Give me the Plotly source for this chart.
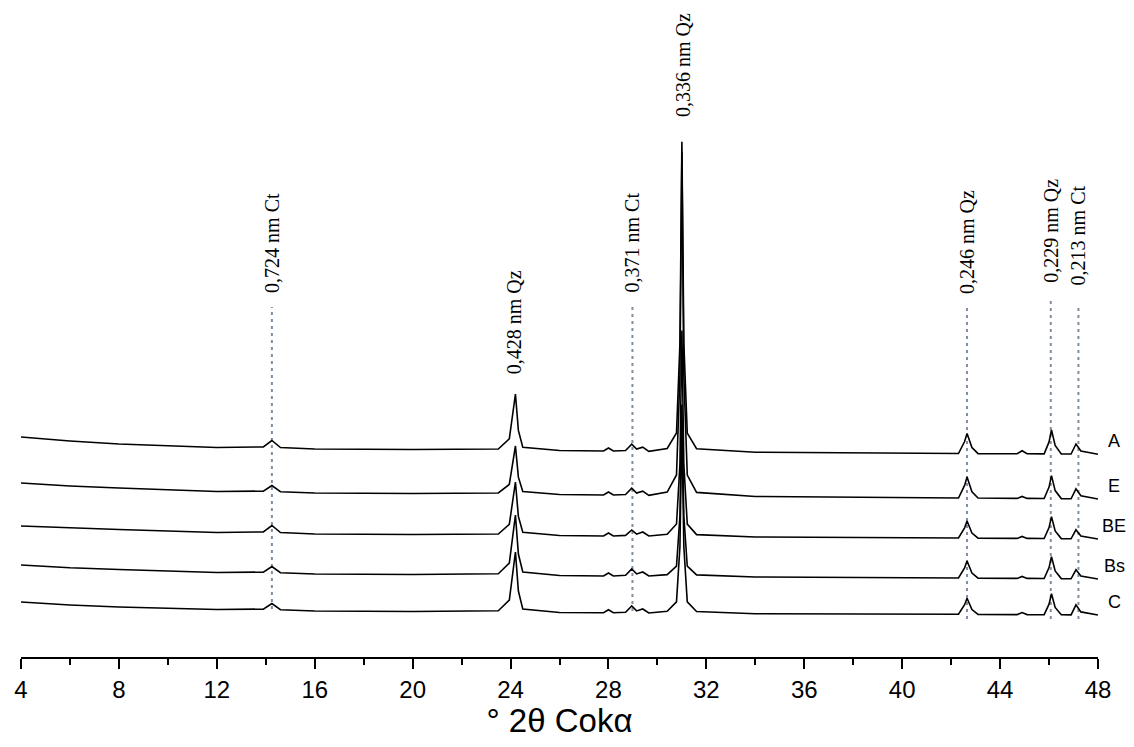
import plotly.graph_objects as go

# ---------------- data ----------------
two_theta = [4.0, 5.0, 6.0, 8.0, 10.0, 12.0, 13.9, 14.25, 14.6, 16.0, 20.0,
             23.5, 23.95, 24.2, 24.32, 24.5, 26.0, 27.8, 28.0, 28.2, 28.7,
             28.95, 29.15, 29.4, 29.65, 30.4, 30.78, 30.92, 31.0, 31.08, 31.22,
             31.6, 34.0, 38.0, 42.3, 42.55, 42.65, 42.85, 43.1, 44.7, 44.9,
             45.1, 45.8, 46.0, 46.1, 46.25, 46.5, 46.9, 47.1, 47.3, 48.0]

int_A = [60, 58, 56, 53, 51, 49.5, 50.1, 56.5, 49.5, 48, 47.5,
         48, 58.2, 103, 66.6, 49.8, 46.5, 46, 49, 46, 46.5,
         52.8, 47.9, 49.8, 45.7, 48.5, 64, 153.8, 355.3, 153.8, 63.9,
         48.3, 44.8, 44, 43.5, 55.5, 63.5, 49.4, 43.4, 43.2, 46.2,
         43.2, 43.1, 55.1, 67.1, 51.5, 43.1, 43, 53, 46, 42.8]

int_E = [56, 54.5, 53, 51, 49, 47.5, 47.9, 53.5, 47.3, 46, 45.5,
         46, 54.6, 93, 61.8, 47.4, 44.5, 44, 47, 44, 44.5,
         50.8, 45.9, 47.8, 43.7, 46.9, 64, 163.7, 387.3, 163.7, 63.9,
         46.6, 42.5, 41.5, 41, 53.6, 62, 47.3, 41, 40.6, 42.6,
         40.6, 40.5, 51.9, 63.4, 48.4, 40.4, 40.2, 50.2, 43.2, 40]

int_BE = [53, 52, 51, 49.5, 48, 46.5, 47.1, 53.5, 46.5, 45, 44.5,
          45, 54.6, 97, 62.6, 46.7, 43.5, 43, 46, 43, 43.6,
          49, 44.8, 47, 43, 44.7, 55, 114.6, 248.5, 114.6, 54.9,
          44.4, 42, 41.3, 41, 51.2, 58, 46, 40.9, 40.6, 42.6,
          40.6, 40.5, 51.4, 62.4, 48.1, 40.4, 40.2, 49.2, 42.9, 40]

int_Bs = [54, 52.5, 51.2, 49.5, 48, 46.5, 46.9, 52.5, 46.3, 45, 44.5,
          45.2, 56, 104, 65, 47, 43.5, 43, 46, 43, 43.7,
          50, 45.1, 47, 43, 44.4, 52.9, 102.7, 214.5, 102.7, 52.8,
          44.1, 42, 41.3, 41, 51.2, 58, 46, 40.9, 40.6, 42.6,
          40.6, 40.5, 51.4, 62.4, 48.1, 40.4, 40.2, 49.2, 42.9, 40]

int_C = [55, 53.5, 52, 50, 48.5, 47.5, 47.9, 53.5, 47.3, 46, 45.5,
         46.2, 57, 105, 66, 48, 44.5, 44.2, 47.2, 44.2, 44.8,
         51, 46.1, 48, 44, 45.7, 55.1, 110.2, 233.7, 110.2, 55.1,
         45.5, 43.3, 43, 42.7, 52.3, 58.7, 47.5, 42.6, 42.4, 44.4,
         42.4, 42.3, 52.8, 63.3, 49.6, 42.3, 42.1, 52.1, 45.1, 42]

samples = ["A", "E", "BE", "Bs", "C"]
intensities = [int_A, int_E, int_BE, int_Bs, int_C]
offsets = [160, 118, 78, 38, 0]

peak_labels = ["0,724 nm Ct", "0,428 nm Qz", "0,371 nm Ct", "0,336 nm Qz",
               "0,246 nm Qz", "0,229 nm Qz", "0,213 nm Ct"]
peak_pos = [14.25, 24.15, 28.98, 31.05, 42.65, 46.07, 47.2]
peak_label_y = [414, 335, 415, 592, 415, 426, 422]
peak_has_line = [True, False, True, False, True, True, True]
line_top = [350, None, 350, None, 350, 359, 350]
line_bottom = [48, None, 46, None, 38, 38, 38]

x_ticks = [4, 8, 12, 16, 20, 24, 28, 32, 36, 40, 44, 48]

# ---------------- figure ----------------
fig = go.Figure()

for name, ints, off in zip(samples, intensities, offsets):
    fig.add_trace(go.Scatter(
        x=two_theta, y=[v + off for v in ints], mode="lines", name=name,
        line=dict(color="black", width=1.6), showlegend=False,
        hoverinfo="skip", cliponaxis=False))

line_color = "#7d8ea0"
for lab, pos, ly, has, top, bot in zip(peak_labels, peak_pos, peak_label_y,
                                        peak_has_line, line_top, line_bottom):
    if has:
        fig.add_shape(type="line", xref="x", yref="y", x0=pos, x1=pos,
                      y0=bot, y1=top,
                      line=dict(color=line_color, width=2, dash="3px,4px"),
                      layer="below")
    fig.add_annotation(x=pos, y=ly, xref="x", yref="y", text=lab,
                       textangle=-90, showarrow=False,
                       font=dict(family="Liberation Serif, Times New Roman, serif",
                                 size=20, color="black"))

for name, ints, off in zip(samples, intensities, offsets):
    fig.add_annotation(x=two_theta[-1], y=ints[-1] + off + 13, xref="x", yref="y",
                       text=name, showarrow=False, xshift=16,
                       font=dict(family="Liberation Sans, Arial, sans-serif",
                                 size=18, color="black"))

fig.update_xaxes(
    range=[4, 48], tickvals=x_ticks, ticktext=[str(t) for t in x_ticks],
    ticks="outside", ticklen=10, tickwidth=2, tickcolor="black",
    minor=dict(dtick=2, tick0=4, ticks="outside", ticklen=6, tickwidth=2,
               tickcolor="black"),
    showline=True, linecolor="black", linewidth=2, showgrid=False,
    zeroline=False, automargin=False,
    tickfont=dict(family="Liberation Sans, Arial, sans-serif", size=24,
                  color="black"),
    title=dict(text="° 2θ Cokα", standoff=12,
               font=dict(family="Liberation Sans, Arial, sans-serif", size=33,
                         color="black")))
fig.update_yaxes(visible=False, range=[0, 649], automargin=False)

# the page body has an 8 px margin, so the figure is sized to fit the window
fig.update_layout(
    width=1118, height=731,
    margin=dict(l=13, r=28, t=0, b=82, autoexpand=False),
    paper_bgcolor="white", plot_bgcolor="white",
)

fig.write_html("out.html")
